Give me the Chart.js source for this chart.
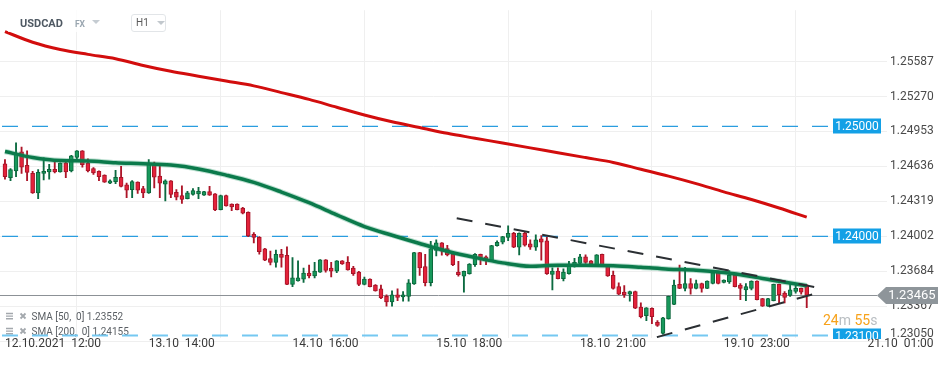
<!DOCTYPE html>
<html>
<head>
<meta charset="utf-8">
<script src="https://cdn.jsdelivr.net/npm/chart.js@4/dist/chart.umd.min.js"></script>
<style>
  html, body { margin: 0; padding: 0; background: #fff; }
  #wrap { position: relative; width: 950px; height: 365px; overflow: hidden; }
  #chart { display: block; }
  #veil { position: absolute; left: 8px; top: 10px; width: 164px; height: 22px; background: rgba(255,255,255,0.78); }
  #sym { position: absolute; left: 20px; top: 15px; font-family: Roboto, sans-serif; white-space: nowrap; line-height: 14px; }
  #sym b { font-size: 11px; color: #4f5963; }
  #sym i { font-style: normal; font-weight: bold; font-size: 8.5px; color: #9aa6b0; margin-left: 12px; }
  .tri { display: inline-block; width: 0; height: 0; border-left: 4.5px solid transparent; border-right: 4.5px solid transparent; border-top: 4px solid #c5ccd2; vertical-align: 3px; margin-left: 7px; }
  #tf { position: absolute; left: 131px; top: 14px; width: 35px; height: 18px; box-sizing: border-box; border: 1px solid #e2e5e8; border-radius: 3px; font-family: Roboto, sans-serif; font-size: 10px; color: #5a5a5a; line-height: 16px; padding-left: 4px; }
  #tf .tri { margin-left: 8px; vertical-align: 1px; border-top-color: #c2c8cd; }
</style>
</head>
<body>
<div id="wrap">
  <canvas id="chart" width="950" height="365"></canvas>
  <div id="veil"></div>
  <div id="sym"><b>USDCAD</b><i>FX</i><span class="tri"></span></div>
  <div id="tf">H1<span class="tri"></span></div>
</div>
<script>
// hourly candles
const opens = [1.24660,1.24533,1.24595,1.24768,1.24645,1.24572,1.24396,1.24572,1.24586,1.24610,
  1.24586,1.24669,1.24595,1.24718,1.24777,1.24665,1.24616,1.24592,1.24557,1.24484,
  1.24498,1.24537,1.24469,1.24425,1.24493,1.24434,1.24396,1.24654,1.24548,1.24475,
  1.24504,1.24401,1.24372,1.24343,1.24381,1.24387,1.24375,1.24407,1.24387,1.24243,
  1.24372,1.24293,1.24293,1.24258,1.24220,1.24020,1.23991,1.23888,1.23800,1.23764,
  1.23838,1.23829,1.23565,1.23597,1.23612,1.23668,1.23641,1.23676,1.23788,1.23712,
  1.23685,1.23779,1.23764,1.23712,1.23676,1.23565,1.23612,1.23559,1.23524,1.23456,
  1.23406,1.23471,1.23450,1.23456,1.23568,1.23853,1.23727,1.23580,1.23873,1.23941,
  1.23890,1.23838,1.23676,1.23639,1.23661,1.23744,1.23838,1.23815,1.23779,1.23917,
  1.23947,1.23991,1.24029,1.23903,1.24029,1.23932,1.23903,1.23978,1.23961,1.23656,
  1.23685,1.23617,1.23661,1.23735,1.23756,1.23815,1.23779,1.23744,1.23838,1.23735,
  1.23647,1.23544,1.23494,1.23476,1.23500,1.23359,1.23280,1.23348,1.23221,1.23119,
  1.23251,1.23383,1.23565,1.23529,1.23573,1.23529,1.23573,1.23529,1.23573,1.23683,
  1.23582,1.23588,1.23647,1.23559,1.23515,1.23529,1.23595,1.23436,1.23368,1.23418,
  1.23565,1.23485,1.23465,1.23500,1.23529,1.23559]
const highs = [1.24698,1.24616,1.24850,1.24812,1.24777,1.24592,1.24607,1.24713,1.24654,1.24698,
  1.24668,1.24674,1.24736,1.24780,1.24780,1.24704,1.24625,1.24595,1.24560,1.24513,
  1.24601,1.24636,1.24484,1.24507,1.24496,1.24454,1.24698,1.24674,1.24645,1.24513,
  1.24507,1.24425,1.24460,1.24410,1.24434,1.24445,1.24410,1.24454,1.24390,1.24375,
  1.24375,1.24296,1.24296,1.24264,1.24223,1.24035,1.23999,1.23891,1.23867,1.23876,
  1.23882,1.23905,1.23809,1.23779,1.23712,1.23741,1.23764,1.23791,1.23791,1.23764,
  1.23782,1.23782,1.23817,1.23729,1.23683,1.23632,1.23615,1.23562,1.23559,1.23471,
  1.23506,1.23524,1.23500,1.23609,1.23856,1.23856,1.23838,1.23956,1.23970,1.23944,
  1.23920,1.23861,1.23773,1.23686,1.23753,1.23844,1.23841,1.23823,1.23920,1.23961,
  1.24002,1.24096,1.24037,1.24032,1.24037,1.23970,1.24014,1.24008,1.23991,1.23714,
  1.23714,1.23705,1.23773,1.23802,1.23838,1.23832,1.23782,1.23835,1.23841,1.23738,
  1.23685,1.23580,1.23553,1.23503,1.23503,1.23397,1.23354,1.23351,1.23236,1.23265,
  1.23459,1.23603,1.23741,1.23720,1.23617,1.23603,1.23576,1.23598,1.23683,1.23686,
  1.23606,1.23691,1.23650,1.23573,1.23573,1.23598,1.23598,1.23439,1.23439,1.23568,
  1.23568,1.23500,1.23573,1.23565,1.23532,1.23562]
const lows = [1.24519,1.24507,1.24542,1.24572,1.24507,1.24390,1.24343,1.24513,1.24519,1.24577,
  1.24583,1.24533,1.24586,1.24689,1.24630,1.24586,1.24563,1.24507,1.24490,1.24480,
  1.24480,1.24449,1.24352,1.24352,1.24390,1.24352,1.24390,1.24440,1.24352,1.24322,
  1.24352,1.24331,1.24299,1.24340,1.24375,1.24343,1.24372,1.24372,1.24234,1.24240,
  1.24275,1.24234,1.24240,1.24205,1.23999,1.23941,1.23838,1.23779,1.23741,1.23720,
  1.23720,1.23562,1.23544,1.23594,1.23582,1.23624,1.23624,1.23673,1.23676,1.23632,
  1.23670,1.23747,1.23694,1.23647,1.23553,1.23559,1.23541,1.23503,1.23436,1.23368,
  1.23368,1.23418,1.23412,1.23412,1.23565,1.23647,1.23551,1.23551,1.23823,1.23829,
  1.23823,1.23735,1.23639,1.23494,1.23658,1.23727,1.23744,1.23744,1.23776,1.23912,
  1.23932,1.23961,1.23897,1.23832,1.23912,1.23882,1.23873,1.23785,1.23656,1.23515,
  1.23614,1.23597,1.23658,1.23720,1.23744,1.23756,1.23747,1.23741,1.23732,1.23638,
  1.23521,1.23471,1.23447,1.23412,1.23345,1.23260,1.23236,1.23207,1.23183,1.23113,
  1.23248,1.23380,1.23526,1.23506,1.23476,1.23524,1.23494,1.23526,1.23570,1.23570,
  1.23579,1.23573,1.23541,1.23427,1.23418,1.23515,1.23424,1.23365,1.23365,1.23415,
  1.23397,1.23397,1.23456,1.23485,1.23476,1.23353]
const closes = [1.24542,1.24607,1.24753,1.24630,1.24581,1.24396,1.24581,1.24592,1.24610,1.24586,
  1.24665,1.24586,1.24733,1.24777,1.24651,1.24595,1.24577,1.24542,1.24493,1.24504,
  1.24537,1.24454,1.24419,1.24498,1.24419,1.24396,1.24665,1.24537,1.24484,1.24504,
  1.24381,1.24357,1.24337,1.24396,1.24416,1.24410,1.24407,1.24375,1.24240,1.24372,
  1.24278,1.24269,1.24243,1.24211,1.24005,1.23991,1.23861,1.23785,1.23764,1.23838,
  1.23809,1.23565,1.23624,1.23624,1.23668,1.23641,1.23685,1.23788,1.23691,1.23685,
  1.23779,1.23750,1.23697,1.23661,1.23565,1.23612,1.23544,1.23506,1.23441,1.23406,
  1.23471,1.23447,1.23471,1.23580,1.23853,1.23714,1.23580,1.23888,1.23941,1.23867,
  1.23832,1.23744,1.23653,1.23683,1.23750,1.23838,1.23802,1.23785,1.23917,1.23947,
  1.23999,1.24029,1.23903,1.24029,1.23920,1.23903,1.23970,1.23947,1.23661,1.23685,
  1.23617,1.23676,1.23735,1.23764,1.23815,1.23764,1.23750,1.23832,1.23735,1.23641,
  1.23529,1.23476,1.23471,1.23500,1.23348,1.23271,1.23351,1.23271,1.23192,1.23260,
  1.23456,1.23559,1.23529,1.23573,1.23529,1.23573,1.23529,1.23595,1.23670,1.23573,
  1.23603,1.23647,1.23544,1.23529,1.23544,1.23595,1.23427,1.23368,1.23436,1.23565,
  1.23471,1.23447,1.23515,1.23529,1.23494,1.23465]

// moving averages, sampled every 5 candles
const smaIdx = [0,5,10,15,20,25,30,35,40,45,50,55,60,65,70,75,80,85,90,95,100,105,110,115,120,125,130,135,140,145]
const sma50 = [1.24771,1.24716,1.24689,1.24686,1.24669,1.24661,1.24648,1.24613,1.24557,1.24491,
  1.24403,1.24306,1.24196,1.24090,1.24011,1.23936,1.23866,1.23809,1.23760,1.23729,
  1.23738,1.23738,1.23734,1.23720,1.23703,1.23694,1.23672,1.23637,1.23593,1.23552]
const sma200 = [1.25860,1.25763,1.25697,1.25653,1.25614,1.25552,1.25499,1.25455,1.25411,1.25367,
  1.25306,1.25244,1.25173,1.25103,1.25041,1.24989,1.24936,1.24892,1.24848,1.24804,
  1.24760,1.24716,1.24672,1.24610,1.24548,1.24480,1.24405,1.24335,1.24258,1.24175]
const sma50Last = 1.23552
const sma200Last = 1.24155

// drawn trend lines (candle index, price)
const upperTrendIdx = [81.7, 147.9]
const upperTrendVal = [1.24165, 1.23527]
const lowerTrendIdx = [117.9, 147.4]
const lowerTrendVal = [1.23086, 1.23492]

const levels = [1.25000, 1.24000, 1.23100]
const yTicks = [1.23050, 1.23367, 1.23684, 1.24002, 1.24319, 1.24636, 1.24953, 1.25270, 1.25587]
const xTickIdx = [0, 26, 52, 78, 104, 130, 156]
const xTickLabels = ['12.10.2021  12:00', '13.10  14:00', '14.10  16:00', '15.10  18:00',
  '18.10  21:00', '19.10  23:00', '21.10  01:00']
const countdown = [['24', '#f7a21b'], ['m', '#b9bec2'], [' 55', '#f7a21b'], ['s', '#b9bec2']]

const lastPrice = closes[closes.length - 1]
const up = closes.map((c, i) => c >= opens[i])
const wicks = opens.map((o, i) => ({ x: i, y: [lows[i], highs[i]] }))
const bodies = opens.map((o, i) => ({ x: i, y: [o, closes[i]] }))
const pts = (xs, ys) => xs.map((x, i) => ({ x: x, y: ys[i] }))

const FONT = 'Roboto, "Noto Sans", sans-serif'

const overlay = {
  id: 'overlay',
  beforeDatasetsDraw(chart) {
    const { ctx, chartArea: a, scales: { y } } = chart
    ctx.save()
    // indicator legend, under the lines
    const rows = [['SMA [50,  0] ', sma50Last], ['SMA [200,  0] ', sma200Last]]
    rows.forEach((r, k) => {
      const base = 320 + k * 15
      ctx.strokeStyle = '#a3a8ad'
      ctx.lineWidth = 1.4
      ctx.beginPath()
      for (let j = 0; j < 3; j++) { ctx.moveTo(6, base - 6.5 + j * 2.6); ctx.lineTo(13, base - 6.5 + j * 2.6) }
      ctx.stroke()
      ctx.lineWidth = 1.8
      ctx.beginPath()
      ctx.moveTo(20.5, base - 6.5); ctx.lineTo(25.5, base - 1.5)
      ctx.moveTo(25.5, base - 6.5); ctx.lineTo(20.5, base - 1.5)
      ctx.stroke()
      ctx.fillStyle = '#5a5f64'
      ctx.font = '10px ' + FONT
      ctx.textBaseline = 'alphabetic'
      ctx.textAlign = 'left'
      ctx.fillText(r[0] + r[1].toFixed(5), 31.5, base)
    })
    // current price line
    const py = Math.round(y.getPixelForValue(lastPrice)) + 0.5
    ctx.strokeStyle = '#8c9196'
    ctx.lineWidth = 1
    ctx.beginPath(); ctx.moveTo(a.left, py); ctx.lineTo(a.right + 10, py); ctx.stroke()
    // horizontal levels
    levels.forEach((lv, k) => {
      const ly = y.getPixelForValue(lv)
      const last = k === levels.length - 1
      ctx.strokeStyle = last ? '#74c8f1' : '#2a9ddf'
      ctx.lineWidth = last ? 2 : 1.3
      ctx.setLineDash([16, 14])
      ctx.lineDashOffset = -2
      ctx.beginPath(); ctx.moveTo(a.left, ly); ctx.lineTo(a.right - 34, ly); ctx.stroke()
    })
    ctx.restore()
  },
  afterDraw(chart) {
    const { ctx, chartArea: a, scales: { y } } = chart
    ctx.save()
    // level tags, cut at the bottom of the plot
    ctx.save()
    ctx.beginPath()
    ctx.rect(0, 0, chart.width, a.bottom + 1)
    ctx.clip()
    ctx.font = '12px ' + FONT
    ctx.textAlign = 'center'
    ctx.textBaseline = 'middle'
    levels.forEach(lv => {
      const ly = Math.round(y.getPixelForValue(lv))
      ctx.fillStyle = '#13a0e6'
      ctx.fillRect(a.right - 34, ly - 7.5, 48, 15)
      ctx.fillStyle = '#ffffff'
      ctx.fillText(lv.toFixed(5), a.right - 10, ly + 0.5)
    })
    ctx.restore()
    // lowest axis label is lifted above the time axis
    const low = yTicks[0]
    ctx.font = '12px ' + FONT
    ctx.textAlign = 'left'
    ctx.textBaseline = 'middle'
    ctx.fillStyle = '#4a4a4a'
    ctx.fillText(low.toFixed(5), a.right + 23, Math.min(y.getPixelForValue(low), a.bottom - 4))
    // current price tag
    const py = Math.round(y.getPixelForValue(lastPrice)) + 0.5
    const tx = a.right + 10
    ctx.fillStyle = '#8e959a'
    ctx.beginPath()
    ctx.moveTo(tx, py)
    ctx.lineTo(tx + 9, py - 8.5)
    ctx.lineTo(938, py - 8.5)
    ctx.lineTo(938, py + 8.5)
    ctx.lineTo(tx + 9, py + 8.5)
    ctx.closePath()
    ctx.fill()
    ctx.fillStyle = '#ffffff'
    ctx.font = '13px ' + FONT
    ctx.textAlign = 'center'
    ctx.fillText(lastPrice.toFixed(5), 912, py + 0.5)
    // countdown to candle close
    ctx.font = '14px ' + FONT
    ctx.textAlign = 'left'
    ctx.textBaseline = 'alphabetic'
    let cx = a.right - 44
    countdown.forEach(([t, c]) => {
      ctx.fillStyle = c
      ctx.fillText(t, cx, 325)
      cx += ctx.measureText(t).width
    })
    ctx.restore()
  }
}

const lineBase = { type: 'line', pointRadius: 0, fill: false, cubicInterpolationMode: 'monotone' }

new Chart(document.getElementById('chart'), {
  type: 'bar',
  data: {
    datasets: [
      { type: 'bar', data: wicks, backgroundColor: up.map(u => u ? '#0b6a40' : '#ad1528'),
        borderWidth: 0, barThickness: 1.2, grouped: false, order: 6 },
      { type: 'bar', data: bodies, backgroundColor: up.map(u => u ? '#17985b' : '#e3223a'),
        borderColor: up.map(u => u ? '#0b663b' : '#a51528'), borderWidth: 1, borderSkipped: false,
        barThickness: 4, grouped: false, order: 5 },
      { ...lineBase, data: pts(smaIdx, sma50), borderColor: 'rgba(30,150,100,0.3)', borderWidth: 5.5, order: 4 },
      { ...lineBase, data: pts(smaIdx, sma50), borderColor: '#0b7a4b', borderWidth: 3.5, order: 3 },
      { ...lineBase, data: pts(smaIdx, sma200), borderColor: '#d20d0d', borderWidth: 3, order: 3 },
      { type: 'line', data: pts(upperTrendIdx, upperTrendVal), borderColor: '#2b2f33', borderWidth: 2,
        borderDash: [16, 13], pointRadius: 0, order: 1 },
      { type: 'line', data: pts(lowerTrendIdx, lowerTrendVal), borderColor: '#2b2f33', borderWidth: 2,
        borderDash: [16, 13], pointRadius: 0, order: 1 }
    ]
  },
  options: {
    responsive: false,
    animation: false,
    layout: { padding: 0 },
    plugins: { legend: { display: false }, tooltip: { enabled: false }, title: { display: false } },
    scales: {
      x: {
        type: 'linear', offset: false, min: -0.9, max: 155.9,
        afterBuildTicks: s => { s.ticks = xTickIdx.map(v => ({ value: v })) },
        afterFit: s => { s.height = 27 },
        grid: { color: '#efefef', drawTicks: false },
        border: { display: false },
        ticks: { align: 'start', autoSkip: false, maxRotation: 0, padding: -1, color: '#3a3a3a',
          font: { family: FONT, size: 12 }, callback: (v, i) => xTickLabels[i] }
      },
      y: {
        position: 'right', min: 1.23078, max: 1.26054,
        afterBuildTicks: s => { s.ticks = yTicks.map(v => ({ value: v })) },
        afterFit: s => { s.width = 83 },
        grid: { color: '#efefef', drawTicks: true, tickLength: 20 },
        border: { display: false },
        ticks: { padding: 3, font: { family: FONT, size: 12 },
          color: c => c.index === 0 ? 'rgba(0,0,0,0)' : '#4a4a4a',
          callback: v => v.toFixed(5) }
      }
    }
  },
  plugins: [overlay]
})
</script>
</body>
</html>
